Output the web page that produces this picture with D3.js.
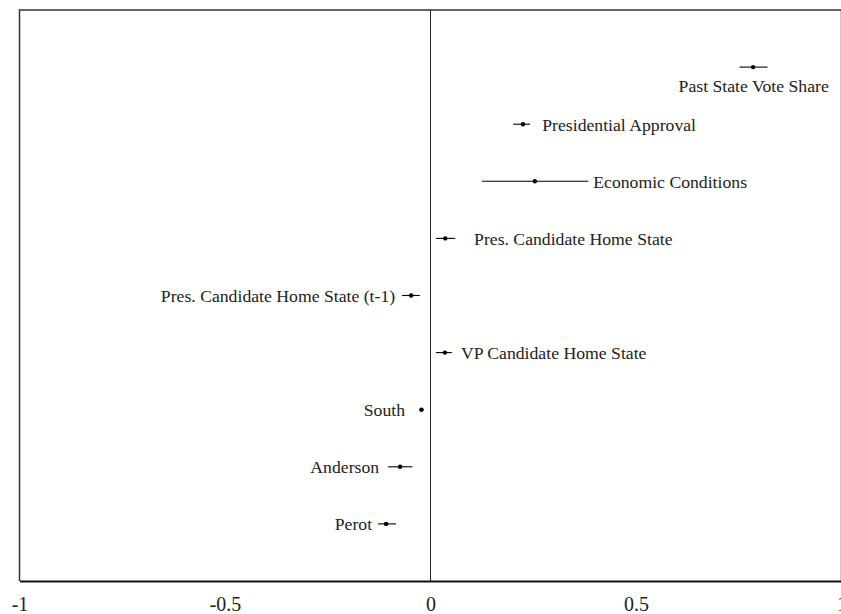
<!DOCTYPE html>
<html><head><meta charset="utf-8">
<script src="https://cdn.jsdelivr.net/npm/d3@7"></script>
<style>body{margin:0;background:#fff}svg{display:block}</style>
</head><body>
<svg id="c" width="841" height="614"></svg>
<script>
const categories = ["Past State Vote Share","Presidential Approval","Economic Conditions","Pres. Candidate Home State","Pres. Candidate Home State (t-1)","VP Candidate Home State","South","Anderson","Perot"];
const estimates = [0.785, 0.225, 0.254, 0.036, -0.047, 0.035, -0.022, -0.074, -0.108];
const lower     = [0.752, 0.201, 0.125, 0.013, -0.069, 0.013, -0.028, -0.103, -0.128];
const upper     = [0.820, 0.242, 0.384, 0.060, -0.026, 0.052, -0.016, -0.044, -0.084];
// label anchor (in coefficient units) and side
const labelAt   = [0.969, 0.272, 0.396, 0.106, -0.086, 0.074, -0.062, -0.125, -0.142];
const labelSide = ["below","right","right","right","left","right","left","left","left"];
const xTicks = [-1, -0.5, 0, 0.5, 1];
const xTickLabels = ["-1","-0.5","0","0.5","1"];

const svg = d3.select("#c");
const L = 19.5, R = 841.5, T = 10, B = 581;
const x = d3.scaleLinear().domain([-1, 1]).range([L, R]);
const y = d3.scaleLinear().domain([0, categories.length + 1]).range([B, T]);
const font = "'Liberation Serif','Times New Roman',serif";

// frame
svg.append("path").attr("d", `M${L},${B}V${T}H${R}V${B}`).attr("fill","none").attr("stroke","#333").attr("stroke-width",1.5);
// zero line
svg.append("line").attr("x1", x(0)).attr("x2", x(0)).attr("y1", T).attr("y2", B).attr("stroke","#222").attr("stroke-width",1);

// axis
const ax = svg.append("g").attr("transform", `translate(0,${B})`)
  .call(d3.axisBottom(x).tickValues(xTicks).tickSize(0).tickPadding(0).tickFormat((d,i)=>xTickLabels[i]));
ax.select(".domain").attr("stroke","#111").attr("stroke-width",2.2);
ax.selectAll("text").attr("font-family", font).attr("font-size", 20).attr("fill","#222").attr("dy", null).attr("y", 30);

const g = svg.append("g");
categories.forEach((c, i) => {
  const yy = y(categories.length - i);
  g.append("line").attr("x1", x(lower[i])).attr("x2", x(upper[i])).attr("y1", yy).attr("y2", yy).attr("stroke","#000").attr("stroke-width",1.1);
  g.append("circle").attr("cx", x(estimates[i])).attr("cy", yy).attr("r", 2.2).attr("fill","#000");
  const t = g.append("text").attr("font-family", font).attr("font-size", 17.7).attr("fill","#222").text(c)
    .attr("x", x(labelAt[i]));
  if (labelSide[i] === "below") { t.attr("text-anchor","end").attr("y", yy + 25); }
  else if (labelSide[i] === "right") { t.attr("text-anchor","start").attr("y", yy + 6.5); }
  else { t.attr("text-anchor","end").attr("y", yy + 6.5); }
});
</script>
</body></html>
